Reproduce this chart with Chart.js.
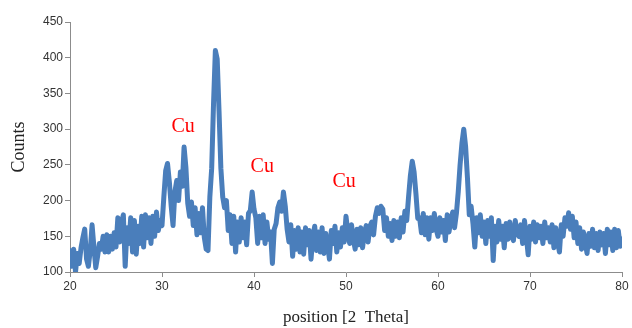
<!DOCTYPE html>
<html>
<head>
<meta charset="utf-8">
<script src="https://cdn.jsdelivr.net/npm/chart.js@4.4.1/dist/chart.umd.min.js"></script>
<style>
html,body{margin:0;padding:0;background:#fff;}
#wrap{width:632px;height:328px;position:relative;}
</style>
</head>
<body>
<div id="wrap"><canvas id="c" width="632" height="328"></canvas></div>
<script>
// 2-theta positions: start and step
const thetaStart = 20;
const thetaStep = 0.2;
// Counts, 5 per degree from 20 to 80
const counts = [
130,108,132,100,126, 112,134,148,160,118, 108,130,166,135,106, 122,140,132,150,128,
152,128,150,132,155, 135,176,142,170,180, 108,162,140,176,128, 172,125,164,140,178,
135,180,148,176,140, 178,150,184,158,172, 165,205,242,252,226, 192,165,212,228,200,
240,220,275,246,196, 178,198,165,190,152, 182,155,190,148,132, 130,205,245,335,410,
398,325,245,205,190, 200,158,180,140,178, 128,170,142,176,148, 170,138,182,186,212,
188,176,140,178,148, 180,140,170,146,156, 112,160,168,190,198, 185,212,192,160,142,
166,122,158,132,162, 128,156,125,162,138, 158,118,150,164,130, 156,128,162,126,154,
138,118,158,140,164, 128,155,135,162,142, 178,155,140,166,145, 132,160,138,162,134,
155,165,142,164,170, 152,178,190,182,192, 188,158,176,150,168, 144,172,150,170,148,
176,156,185,172,205, 235,255,240,210,175, 176,155,182,152,176, 146,176,158,182,160,
150,176,156,172,144, 180,156,174,184,162, 182,212,250,280,300, 276,232,180,192,168,
135,176,155,180,150, 170,140,172,150,176, 116,164,142,172,146, 164,134,168,146,170,
150,144,172,154,150, 166,140,172,150,124, 164,146,170,142,166, 148,164,140,170,148,
162,142,166,134,162, 142,128,166,150,176, 164,183,160,178,148, 170,140,162,132,156,
142,126,154,136,160, 134,154,130,156,138, 154,126,160,138,156, 130,160,134,158,136,
146
];
const peakLabels = ["Cu","Cu","Cu"];
const peakLabelX = [32.3, 40.9, 49.8];
const peakLabelY = [303, 247, 226];
const xTicks = [20,30,40,50,60,70,80];
const yTicks = [100,150,200,250,300,350,400,450];

const points = counts.map((v,i)=>({x: +(thetaStart + i*thetaStep).toFixed(2), y: v}));

const labelPlugin = {
  id:'cuLabels',
  afterDatasetsDraw(chart){
    const ctx = chart.ctx, xs = chart.scales.x, ys = chart.scales.y;
    ctx.save();
    ctx.fillStyle = '#ff0000';
    ctx.font = '20px "Liberation Serif", "Times New Roman", serif';
    ctx.textAlign = 'center';
    ctx.textBaseline = 'middle';
    peakLabels.forEach((t,i)=>{
      ctx.fillText(t, xs.getPixelForValue(peakLabelX[i]), ys.getPixelForValue(peakLabelY[i]));
    });
    ctx.restore();
  }
};

new Chart(document.getElementById('c'), {
  type:'line',
  data:{datasets:[{
    data: points,
    borderColor:'#4a7ebb',
    borderWidth:5,
    borderJoinStyle:'round',
    borderCapStyle:'round',
    pointRadius:0,
    tension:0,
    fill:false
  }]},
  options:{
    responsive:false,
    animation:false,
    devicePixelRatio:1,
    layout:{padding:{left:0,right:10,top:22,bottom:0}},
    plugins:{legend:{display:false},tooltip:{enabled:false}},
    scales:{
      x:{
        type:'linear', min:20, max:80,
        afterBuildTicks(s){ s.ticks = xTicks.map(v=>({value:v})); },
        afterFit(s){ s.height = 56; },
        border:{color:'#8c8c8c',width:1},
        grid:{display:true,drawOnChartArea:false,drawTicks:true,tickLength:5,color:'#8c8c8c'},
        ticks:{color:'#333',font:{family:'"Liberation Sans", Arial, sans-serif',size:12},padding:2,maxRotation:0},
        title:{display:true,text:'position [2  Theta]',color:'#222',font:{family:'"Liberation Serif", "Times New Roman", serif',size:17},padding:{top:9,bottom:0}}
      },
      y:{
        type:'linear', min:100, max:450,
        afterBuildTicks(s){ s.ticks = yTicks.map(v=>({value:v})); },
        afterFit(s){ s.width = 70; },
        border:{color:'#8c8c8c',width:1},
        grid:{display:true,drawOnChartArea:false,drawTicks:true,tickLength:5,color:'#8c8c8c'},
        ticks:{color:'#333',font:{family:'"Liberation Sans", Arial, sans-serif',size:12},padding:2},
        title:{display:true,text:'Counts',color:'#222',font:{family:'"Liberation Serif", "Times New Roman", serif',size:18},padding:{top:8,bottom:0}}
      }
    }
  },
  plugins:[labelPlugin]
});
</script>
</body>
</html>
